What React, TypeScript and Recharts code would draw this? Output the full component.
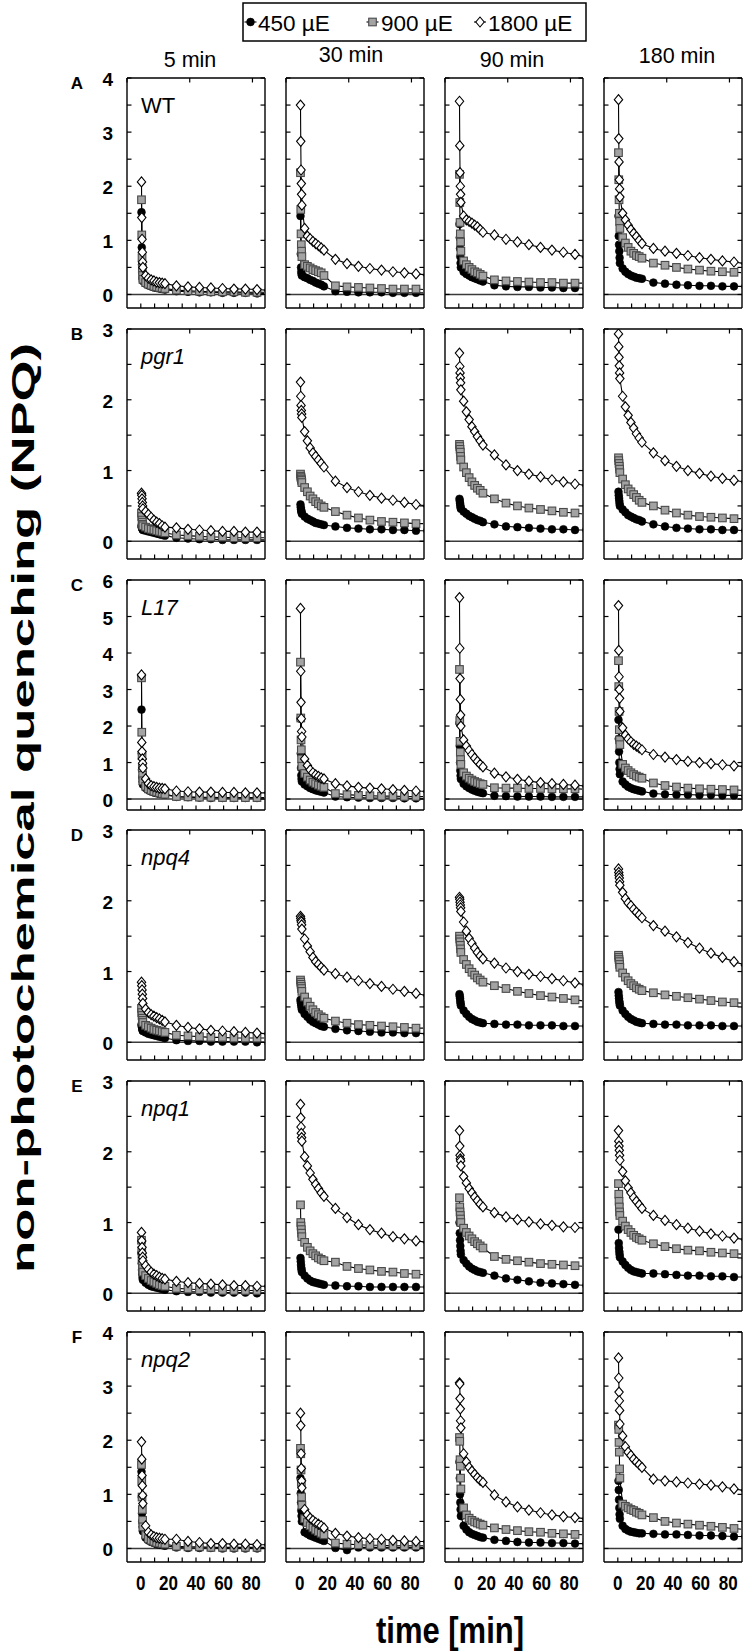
import React from 'react';
import { LineChart, Line, XAxis, YAxis, ReferenceLine } from 'recharts';

// time points (min) after the light period
const TIMES = [0.5, 0.7, 0.9, 1.1, 1.3, 1.5, 3.5, 5.5, 7.5, 9.5, 11.5, 13.5, 15.5, 17.5, 25.8, 34.2, 42.5, 50.8, 59.2, 67.5, 75.8, 84.2, 92.5];

// ---- WT ----
const WT_5_450 = [1.52, 0.87, 0.55, 0.4, 0.3, 0.25, 0.2, 0.17, 0.15, 0.13, 0.12, 0.11, 0.1, 0.09, 0.06, 0.05, 0.04, 0.04, 0.03, 0.03, 0.03, 0.02, 0.02];
const WT_5_900 = [1.75, 1.1, 0.68, 0.48, 0.35, 0.28, 0.22, 0.19, 0.17, 0.15, 0.14, 0.13, 0.12, 0.11, 0.08, 0.07, 0.06, 0.05, 0.05, 0.05, 0.04, 0.04, 0.04];
const WT_5_1800 = [2.08, 1.42, 1.02, 0.78, 0.6, 0.5, 0.35, 0.3, 0.27, 0.25, 0.23, 0.22, 0.21, 0.2, 0.16, 0.14, 0.13, 0.12, 0.11, 0.1, 0.1, 0.09, 0.08];
const WT_30_450 = [1.45, 0.75, 0.5, 0.42, 0.38, 0.35, 0.32, 0.3, 0.27, 0.25, 0.22, 0.2, 0.18, 0.15, 0.06, 0.05, 0.04, 0.04, 0.04, 0.03, 0.03, 0.03, 0.03];
const WT_30_900 = [2.25, 1.57, 1.12, 0.92, 0.8, 0.7, 0.55, 0.52, 0.49, 0.46, 0.44, 0.42, 0.4, 0.35, 0.16, 0.14, 0.13, 0.12, 0.11, 0.1, 0.1, 0.1, 0.09];
const WT_30_1800 = [3.5, 2.83, 2.3, 2.05, 1.85, 1.65, 1.22, 1.08, 1.03, 0.98, 0.94, 0.9, 0.86, 0.82, 0.65, 0.57, 0.52, 0.48, 0.45, 0.42, 0.4, 0.38, 0.36];
const WT_90_450 = [1.3, 1.05, 0.85, 0.7, 0.58, 0.5, 0.42, 0.38, 0.35, 0.32, 0.3, 0.28, 0.26, 0.24, 0.17, 0.15, 0.14, 0.14, 0.13, 0.13, 0.12, 0.12, 0.12];
const WT_90_900 = [2.22, 1.7, 1.33, 1.12, 0.97, 0.8, 0.62, 0.55, 0.5, 0.46, 0.42, 0.4, 0.37, 0.34, 0.27, 0.25, 0.24, 0.23, 0.22, 0.22, 0.21, 0.21, 0.21];
const WT_90_1800 = [3.57, 2.75, 2.25, 2.0, 1.85, 1.7, 1.45, 1.38, 1.35, 1.32, 1.28, 1.25, 1.2, 1.15, 1.1, 1.02, 0.97, 0.92, 0.87, 0.82, 0.78, 0.74, 0.69];
const WT_180_450 = [1.45, 1.08, 0.92, 0.8, 0.68, 0.58, 0.48, 0.42, 0.38, 0.35, 0.33, 0.31, 0.3, 0.29, 0.22, 0.2, 0.18, 0.17, 0.16, 0.16, 0.15, 0.15, 0.15];
const WT_180_900 = [2.62, 2.12, 1.75, 1.5, 1.35, 1.22, 1.05, 0.95, 0.87, 0.8, 0.76, 0.72, 0.7, 0.67, 0.58, 0.54, 0.5, 0.47, 0.45, 0.43, 0.42, 0.41, 0.4];
const WT_180_1800 = [3.6, 2.88, 2.45, 2.12, 1.95, 1.8, 1.5, 1.38, 1.28, 1.2, 1.13, 1.07, 1.0, 0.94, 0.85, 0.8, 0.76, 0.72, 0.68, 0.65, 0.62, 0.6, 0.57];

// ---- pgr1 ----
const PGR1_5_450 = [0.22, 0.2, 0.19, 0.18, 0.17, 0.16, 0.15, 0.14, 0.13, 0.12, 0.11, 0.1, 0.09, 0.08, 0.05, 0.04, 0.03, 0.03, 0.02, 0.02, 0.02, 0.02, 0.02];
const PGR1_5_900 = [0.4, 0.35, 0.3, 0.27, 0.24, 0.22, 0.2, 0.18, 0.17, 0.16, 0.15, 0.14, 0.13, 0.12, 0.09, 0.08, 0.07, 0.06, 0.06, 0.05, 0.05, 0.05, 0.05];
const PGR1_5_1800 = [0.68, 0.65, 0.6, 0.55, 0.5, 0.46, 0.42, 0.38, 0.34, 0.3, 0.27, 0.25, 0.22, 0.2, 0.19, 0.17, 0.16, 0.15, 0.14, 0.14, 0.13, 0.13, 0.13];
const PGR1_30_450 = [0.52, 0.48, 0.45, 0.43, 0.41, 0.39, 0.35, 0.32, 0.3, 0.28, 0.26, 0.25, 0.24, 0.23, 0.21, 0.19, 0.18, 0.17, 0.17, 0.16, 0.16, 0.15, 0.15];
const PGR1_30_900 = [0.95, 0.92, 0.9, 0.88, 0.86, 0.83, 0.76, 0.7, 0.64, 0.6, 0.56, 0.53, 0.5, 0.48, 0.42, 0.37, 0.33, 0.3, 0.28, 0.27, 0.26, 0.25, 0.25];
const PGR1_30_1800 = [2.25, 2.05, 1.92, 1.85, 1.8, 1.75, 1.55, 1.42, 1.32, 1.25, 1.2, 1.15, 1.1, 1.05, 0.85, 0.76, 0.7, 0.65, 0.61, 0.58, 0.55, 0.52, 0.5];
const PGR1_90_450 = [0.6, 0.57, 0.54, 0.51, 0.48, 0.46, 0.42, 0.39, 0.36, 0.34, 0.32, 0.3, 0.29, 0.27, 0.24, 0.21, 0.2, 0.19, 0.18, 0.17, 0.17, 0.16, 0.16];
const PGR1_90_900 = [1.37, 1.34, 1.3, 1.26, 1.2, 1.15, 1.05, 0.97, 0.9, 0.84, 0.79, 0.75, 0.72, 0.68, 0.6, 0.54, 0.5, 0.47, 0.45, 0.43, 0.41, 0.4, 0.38];
const PGR1_90_1800 = [2.66, 2.47, 2.38, 2.31, 2.24, 2.14, 1.98, 1.83, 1.72, 1.62, 1.55, 1.48, 1.42, 1.36, 1.22, 1.08, 1.0, 0.95, 0.91, 0.87, 0.84, 0.81, 0.79];
const PGR1_180_450 = [0.7, 0.65, 0.61, 0.57, 0.53, 0.5, 0.45, 0.41, 0.37, 0.35, 0.33, 0.31, 0.3, 0.28, 0.24, 0.21, 0.19, 0.18, 0.17, 0.17, 0.16, 0.16, 0.15];
const PGR1_180_900 = [1.18, 1.14, 1.1, 1.06, 1.02, 0.97, 0.88, 0.8, 0.74, 0.7, 0.66, 0.62, 0.58, 0.55, 0.5, 0.44, 0.4, 0.37, 0.35, 0.34, 0.33, 0.32, 0.32];
const PGR1_180_1800 = [2.93, 2.75, 2.6, 2.48, 2.38, 2.3, 2.05, 1.9, 1.78, 1.68, 1.6, 1.52, 1.46, 1.4, 1.25, 1.14, 1.06, 1.0, 0.96, 0.92, 0.89, 0.86, 0.84];

// ---- L17 ----
const L17_5_450 = [2.45, 1.25, 0.8, 0.6, 0.48, 0.4, 0.3, 0.25, 0.21, 0.18, 0.16, 0.14, 0.13, 0.12, 0.06, 0.05, 0.04, 0.03, 0.03, 0.03, 0.03, 0.03, 0.03];
const L17_5_900 = [3.32, 1.83, 1.2, 0.85, 0.65, 0.5, 0.35, 0.28, 0.24, 0.21, 0.19, 0.17, 0.15, 0.13, 0.07, 0.06, 0.05, 0.05, 0.04, 0.04, 0.04, 0.04, 0.04];
const L17_5_1800 = [3.4, 1.55, 1.3, 1.1, 0.98, 0.85, 0.55, 0.42, 0.37, 0.34, 0.32, 0.3, 0.29, 0.28, 0.22, 0.2, 0.19, 0.19, 0.18, 0.18, 0.17, 0.17, 0.17];
const L17_30_450 = [2.2, 1.25, 0.85, 0.65, 0.55, 0.48, 0.4, 0.35, 0.3, 0.27, 0.24, 0.22, 0.2, 0.18, 0.07, 0.05, 0.04, 0.03, 0.03, 0.03, 0.02, 0.02, 0.02];
const L17_30_900 = [3.75, 2.22, 1.62, 1.35, 1.1, 0.9, 0.7, 0.6, 0.52, 0.46, 0.42, 0.38, 0.35, 0.32, 0.15, 0.12, 0.1, 0.09, 0.08, 0.08, 0.07, 0.07, 0.07];
const L17_30_1800 = [5.22, 3.5, 2.65, 2.2, 1.85, 1.7, 1.1, 0.92, 0.8, 0.72, 0.66, 0.62, 0.58, 0.55, 0.42, 0.36, 0.32, 0.3, 0.28, 0.26, 0.24, 0.22, 0.21];
const L17_90_450 = [2.08, 1.45, 1.0, 0.78, 0.64, 0.55, 0.42, 0.35, 0.3, 0.26, 0.23, 0.2, 0.18, 0.16, 0.09, 0.08, 0.07, 0.07, 0.07, 0.06, 0.06, 0.06, 0.06];
const L17_90_900 = [3.55, 2.15, 1.58, 1.28, 1.08, 0.95, 0.72, 0.63, 0.57, 0.52, 0.48, 0.45, 0.42, 0.4, 0.31, 0.3, 0.3, 0.29, 0.29, 0.28, 0.28, 0.28, 0.27];
const L17_90_1800 = [5.52, 4.13, 3.3, 2.73, 2.3, 2.0, 1.62, 1.45, 1.33, 1.22, 1.12, 1.03, 0.95, 0.88, 0.71, 0.61, 0.54, 0.49, 0.45, 0.42, 0.4, 0.38, 0.36];
const L17_180_450 = [2.17, 1.65, 1.3, 1.0, 0.82, 0.68, 0.48, 0.4, 0.34, 0.3, 0.27, 0.25, 0.23, 0.21, 0.15, 0.13, 0.12, 0.12, 0.11, 0.11, 0.1, 0.1, 0.1];
const L17_180_900 = [3.79, 3.08, 2.4, 1.9, 1.62, 1.49, 0.95, 0.85, 0.78, 0.72, 0.67, 0.63, 0.6, 0.57, 0.44, 0.37, 0.33, 0.3, 0.28, 0.27, 0.26, 0.25, 0.24];
const L17_180_1800 = [5.3, 4.07, 3.35, 3.0, 2.76, 2.4, 1.95, 1.75, 1.65, 1.57, 1.5, 1.45, 1.4, 1.35, 1.22, 1.15, 1.08, 1.03, 1.0, 0.97, 0.94, 0.91, 0.89];

// ---- npq4 ----
const NPQ4_5_450 = [0.25, 0.23, 0.21, 0.19, 0.17, 0.16, 0.14, 0.12, 0.11, 0.1, 0.09, 0.08, 0.07, 0.06, 0.03, 0.02, 0.02, 0.01, 0.01, 0.01, 0.01, 0.0, 0.0];
const NPQ4_5_900 = [0.48, 0.42, 0.38, 0.34, 0.31, 0.28, 0.24, 0.22, 0.2, 0.18, 0.17, 0.16, 0.15, 0.14, 0.1, 0.09, 0.08, 0.07, 0.07, 0.06, 0.06, 0.06, 0.06];
const NPQ4_5_1800 = [0.85, 0.8, 0.74, 0.68, 0.62, 0.55, 0.47, 0.42, 0.39, 0.37, 0.35, 0.33, 0.31, 0.29, 0.24, 0.21, 0.19, 0.17, 0.16, 0.15, 0.14, 0.13, 0.12];
const NPQ4_30_450 = [0.6, 0.57, 0.55, 0.52, 0.49, 0.46, 0.4, 0.36, 0.32, 0.29, 0.27, 0.25, 0.23, 0.22, 0.19, 0.17, 0.16, 0.15, 0.14, 0.14, 0.13, 0.13, 0.12];
const NPQ4_30_900 = [0.88, 0.85, 0.82, 0.79, 0.76, 0.72, 0.64, 0.57, 0.51, 0.46, 0.42, 0.39, 0.36, 0.34, 0.3, 0.27, 0.25, 0.24, 0.23, 0.22, 0.21, 0.2, 0.2];
const NPQ4_30_1800 = [1.78, 1.75, 1.72, 1.7, 1.66, 1.6, 1.46, 1.36, 1.28, 1.2, 1.14, 1.1, 1.06, 1.02, 0.97, 0.92, 0.87, 0.83, 0.79, 0.75, 0.72, 0.69, 0.66];
const NPQ4_90_450 = [0.68, 0.65, 0.62, 0.58, 0.55, 0.52, 0.45, 0.4, 0.36, 0.33, 0.31, 0.29, 0.28, 0.27, 0.26, 0.25, 0.25, 0.24, 0.24, 0.24, 0.23, 0.23, 0.23];
const NPQ4_90_900 = [1.5, 1.46, 1.42, 1.37, 1.32, 1.27, 1.17, 1.1, 1.04, 0.99, 0.95, 0.91, 0.88, 0.85, 0.8, 0.76, 0.72, 0.69, 0.66, 0.64, 0.62, 0.6, 0.58];
const NPQ4_90_1800 = [2.05, 2.02, 1.98, 1.94, 1.9, 1.85, 1.7, 1.57, 1.47, 1.4, 1.33, 1.27, 1.22, 1.18, 1.12, 1.05, 1.0, 0.96, 0.93, 0.9, 0.87, 0.84, 0.81];
const NPQ4_180_450 = [0.71, 0.66, 0.62, 0.58, 0.55, 0.52, 0.45, 0.4, 0.36, 0.33, 0.31, 0.29, 0.28, 0.27, 0.26, 0.25, 0.25, 0.24, 0.24, 0.24, 0.23, 0.23, 0.23];
const NPQ4_180_900 = [1.23, 1.2, 1.17, 1.14, 1.1, 1.06, 0.98, 0.92, 0.87, 0.83, 0.8, 0.77, 0.75, 0.73, 0.7, 0.67, 0.65, 0.63, 0.61, 0.59, 0.57, 0.56, 0.55];
const NPQ4_180_1800 = [2.45, 2.4, 2.36, 2.32, 2.27, 2.22, 2.12, 2.03, 1.97, 1.93, 1.88, 1.84, 1.8, 1.76, 1.65, 1.57, 1.49, 1.41, 1.33, 1.26, 1.2, 1.14, 1.09];

// ---- npq1 ----
const NPQ1_5_450 = [0.57, 0.42, 0.33, 0.27, 0.22, 0.19, 0.15, 0.12, 0.1, 0.09, 0.08, 0.07, 0.06, 0.05, 0.03, 0.02, 0.02, 0.01, 0.01, 0.01, 0.01, 0.0, 0.01];
const NPQ1_5_900 = [0.75, 0.6, 0.48, 0.4, 0.35, 0.3, 0.25, 0.21, 0.18, 0.16, 0.14, 0.12, 0.11, 0.1, 0.07, 0.06, 0.05, 0.05, 0.04, 0.04, 0.04, 0.04, 0.04];
const NPQ1_5_1800 = [0.86, 0.74, 0.65, 0.57, 0.51, 0.46, 0.39, 0.34, 0.3, 0.27, 0.25, 0.23, 0.21, 0.2, 0.17, 0.15, 0.14, 0.13, 0.12, 0.11, 0.11, 0.1, 0.1];
const NPQ1_30_450 = [0.5, 0.45, 0.4, 0.36, 0.33, 0.3, 0.25, 0.21, 0.18, 0.16, 0.15, 0.14, 0.13, 0.12, 0.11, 0.1, 0.1, 0.09, 0.09, 0.09, 0.09, 0.09, 0.09];
const NPQ1_30_900 = [1.25, 1.0, 0.95, 0.9, 0.85, 0.8, 0.72, 0.65, 0.6, 0.56, 0.53, 0.5, 0.48, 0.46, 0.44, 0.38, 0.35, 0.33, 0.31, 0.3, 0.28, 0.27, 0.26];
const NPQ1_30_1800 = [2.67, 2.48, 2.35, 2.26, 2.2, 2.15, 1.93, 1.8, 1.7, 1.61, 1.54, 1.48, 1.42, 1.37, 1.2, 1.07, 0.97, 0.9, 0.85, 0.8, 0.77, 0.74, 0.72];
const NPQ1_90_450 = [1.0, 0.85, 0.75, 0.67, 0.6, 0.55, 0.47, 0.42, 0.38, 0.35, 0.33, 0.31, 0.3, 0.29, 0.25, 0.21, 0.19, 0.17, 0.15, 0.14, 0.13, 0.12, 0.11];
const NPQ1_90_900 = [1.35, 1.22, 1.15, 1.1, 1.05, 1.0, 0.92, 0.86, 0.81, 0.77, 0.73, 0.7, 0.67, 0.64, 0.52, 0.48, 0.46, 0.44, 0.42, 0.41, 0.4, 0.39, 0.38];
const NPQ1_90_1800 = [2.3, 2.08, 1.95, 1.9, 1.87, 1.8, 1.65, 1.56, 1.48, 1.42, 1.36, 1.31, 1.26, 1.22, 1.14, 1.08, 1.04, 1.01, 0.98, 0.96, 0.94, 0.93, 0.92];
const NPQ1_180_450 = [0.9, 0.71, 0.64, 0.59, 0.55, 0.51, 0.45, 0.4, 0.36, 0.33, 0.31, 0.3, 0.29, 0.28, 0.28, 0.27, 0.26, 0.25, 0.25, 0.24, 0.24, 0.23, 0.23];
const NPQ1_180_900 = [1.55, 1.4, 1.3, 1.22, 1.15, 1.1, 1.02, 0.95, 0.9, 0.86, 0.82, 0.79, 0.77, 0.75, 0.7, 0.66, 0.63, 0.61, 0.6, 0.58, 0.57, 0.56, 0.55];
const NPQ1_180_1800 = [2.3, 2.15, 2.08, 2.02, 1.95, 1.88, 1.72, 1.59, 1.49, 1.42, 1.35, 1.3, 1.25, 1.2, 1.1, 1.03, 0.97, 0.92, 0.88, 0.84, 0.81, 0.78, 0.76];

// ---- npq2 ----
const NPQ2_5_450 = [1.42, 0.95, 0.65, 0.5, 0.4, 0.32, 0.2, 0.15, 0.12, 0.1, 0.08, 0.07, 0.06, 0.05, 0.02, 0.01, 0.01, 0.01, 0.0, 0.0, 0.0, 0.0, 0.0];
const NPQ2_5_900 = [1.55, 1.25, 0.95, 0.72, 0.52, 0.4, 0.25, 0.18, 0.15, 0.13, 0.11, 0.1, 0.09, 0.08, 0.04, 0.03, 0.03, 0.02, 0.02, 0.02, 0.02, 0.02, 0.02];
const NPQ2_5_1800 = [1.97, 1.65, 1.35, 1.16, 0.98, 0.83, 0.42, 0.3, 0.25, 0.22, 0.2, 0.19, 0.18, 0.17, 0.17, 0.13, 0.11, 0.09, 0.09, 0.08, 0.08, 0.07, 0.07];
const NPQ2_30_450 = [1.3, 1.02, 0.85, 0.7, 0.6, 0.5, 0.3, 0.27, 0.24, 0.22, 0.2, 0.18, 0.16, 0.14, 0.01, -0.03, 0.02, 0.02, 0.02, 0.02, 0.02, 0.02, 0.02];
const NPQ2_30_900 = [1.85, 1.75, 1.45, 1.22, 0.95, 0.8, 0.55, 0.48, 0.42, 0.38, 0.34, 0.31, 0.28, 0.25, 0.1, 0.08, 0.07, 0.06, 0.06, 0.05, 0.05, 0.05, 0.05];
const NPQ2_30_1800 = [2.5, 2.27, 1.75, 1.48, 1.25, 1.12, 0.72, 0.62, 0.56, 0.52, 0.48, 0.45, 0.42, 0.38, 0.28, 0.23, 0.2, 0.18, 0.17, 0.15, 0.14, 0.13, 0.13];
const NPQ2_90_450 = [1.6, 1.3, 1.0, 0.85, 0.72, 0.6, 0.42, 0.35, 0.3, 0.27, 0.25, 0.23, 0.21, 0.2, 0.16, 0.14, 0.12, 0.11, 0.11, 0.1, 0.1, 0.09, 0.09];
const NPQ2_90_900 = [2.05, 1.98, 1.64, 1.52, 1.3, 1.1, 0.75, 0.62, 0.56, 0.52, 0.49, 0.47, 0.45, 0.43, 0.38, 0.35, 0.33, 0.31, 0.3, 0.28, 0.27, 0.26, 0.25];
const NPQ2_90_1800 = [3.06, 3.04, 2.77, 2.58, 2.36, 2.23, 1.75, 1.6, 1.5, 1.43, 1.37, 1.31, 1.26, 1.22, 0.99, 0.86, 0.77, 0.71, 0.66, 0.62, 0.59, 0.57, 0.55];
const NPQ2_180_450 = [1.25, 1.08, 0.9, 0.75, 0.63, 0.55, 0.42, 0.36, 0.33, 0.31, 0.3, 0.29, 0.28, 0.28, 0.27, 0.26, 0.26, 0.25, 0.24, 0.24, 0.23, 0.22, 0.22];
const NPQ2_180_900 = [2.28, 2.2, 1.96, 1.78, 1.47, 1.3, 0.82, 0.78, 0.75, 0.72, 0.7, 0.67, 0.65, 0.62, 0.57, 0.5, 0.47, 0.45, 0.43, 0.41, 0.39, 0.37, 0.35];
const NPQ2_180_1800 = [3.52, 3.15, 2.89, 2.73, 2.55, 2.3, 2.08, 1.88, 1.78, 1.72, 1.65, 1.6, 1.55, 1.5, 1.28, 1.25, 1.23, 1.21, 1.19, 1.17, 1.14, 1.1, 1.07];

// ---- labels / axes ----
const COL_TITLES = ['5 min', '30 min', '90 min', '180 min'];
const ROW_LETTERS = ['A', 'B', 'C', 'D', 'E', 'F'];
const GENOTYPES = ['WT', 'pgr1', 'L17', 'npq4', 'npq1', 'npq2'];
const GENO_ITALIC = [false, true, true, true, true, true];
const Y_MAX = [4, 3, 6, 3, 3, 4];
const Y_MIN = [-0.25, -0.25, -0.3, -0.25, -0.25, -0.25];
const Y_TICKS_4 = [0, 0.5, 1, 1.5, 2, 2.5, 3, 3.5, 4];
const Y_TICKS_3 = [0, 0.5, 1, 1.5, 2, 2.5, 3];
const Y_TICKS_6 = [0, 1, 2, 3, 4, 5, 6];
const Y_TICKS = [Y_TICKS_4, Y_TICKS_3, Y_TICKS_6, Y_TICKS_3, Y_TICKS_3, Y_TICKS_4];
const X_DOMAIN = [-10, 90];
const X_TICKS = [0, 10, 20, 30, 40, 50, 60, 70, 80];
const X_LABELS = [0, 20, 40, 60, 80];
const LEGEND_LABELS = ['450 µE', '900 µE', '1800 µE'];
const Y_TITLE = 'non-photochemical quenching (NPQ)';
const X_TITLE = 'time [min]';

const SERIES = [
  [[WT_5_450, WT_5_900, WT_5_1800], [WT_30_450, WT_30_900, WT_30_1800], [WT_90_450, WT_90_900, WT_90_1800], [WT_180_450, WT_180_900, WT_180_1800]],
  [[PGR1_5_450, PGR1_5_900, PGR1_5_1800], [PGR1_30_450, PGR1_30_900, PGR1_30_1800], [PGR1_90_450, PGR1_90_900, PGR1_90_1800], [PGR1_180_450, PGR1_180_900, PGR1_180_1800]],
  [[L17_5_450, L17_5_900, L17_5_1800], [L17_30_450, L17_30_900, L17_30_1800], [L17_90_450, L17_90_900, L17_90_1800], [L17_180_450, L17_180_900, L17_180_1800]],
  [[NPQ4_5_450, NPQ4_5_900, NPQ4_5_1800], [NPQ4_30_450, NPQ4_30_900, NPQ4_30_1800], [NPQ4_90_450, NPQ4_90_900, NPQ4_90_1800], [NPQ4_180_450, NPQ4_180_900, NPQ4_180_1800]],
  [[NPQ1_5_450, NPQ1_5_900, NPQ1_5_1800], [NPQ1_30_450, NPQ1_30_900, NPQ1_30_1800], [NPQ1_90_450, NPQ1_90_900, NPQ1_90_1800], [NPQ1_180_450, NPQ1_180_900, NPQ1_180_1800]],
  [[NPQ2_5_450, NPQ2_5_900, NPQ2_5_1800], [NPQ2_30_450, NPQ2_30_900, NPQ2_30_1800], [NPQ2_90_450, NPQ2_90_900, NPQ2_90_1800], [NPQ2_180_450, NPQ2_180_900, NPQ2_180_1800]],
];

// ---- layout ----
const FONT = '"Liberation Sans", Arial, Helvetica, sans-serif';
const COL_X = [127, 286, 445, 604];
const ROW_Y = [78, 329, 580, 830, 1081, 1332];
const PW = 138;
const PH = 230;
const AXL = 50;
const AXR = 2;
const PADT = 16;
const AXB = 42;
const TL = 4.5;
const FRAME = { stroke: '#000', strokeWidth: 1.4 };
const TITLE_X = [190, 351, 512, 677];
const TITLE_Y = [60, 55, 60, 56];

const SQ_FILL = '#a3a3a3';
const SQ_STROKE = '#4a4a4a';

const circleMark = (cx: number, cy: number, key?: any) => (
  <circle key={key} cx={cx} cy={cy} r={3.9} fill="#000" stroke="#000" strokeWidth={0.6} />
);
const squareMark = (cx: number, cy: number, key?: any) => (
  <rect key={key} x={cx - 3.8} y={cy - 3.8} width={7.6} height={7.6} fill={SQ_FILL} stroke={SQ_STROKE} strokeWidth={1.1} />
);
const diamondMark = (cx: number, cy: number, key?: any) => (
  <path key={key} d={`M${cx},${cy - 5}L${cx + 4.2},${cy}L${cx},${cy + 5}L${cx - 4.2},${cy}Z`} fill="#fff" stroke="#000" strokeWidth={1.1} />
);
const MARKS = [circleMark, squareMark, diamondMark];

const makeDot = (mark: (cx: number, cy: number, key?: any) => any) => (p: any) => {
  if (p == null || p.cx == null || p.cy == null) return <g key={p && p.index} />;
  return mark(p.cx, p.cy, p.index);
};

function Panel({ r, c }: { r: number; c: number }) {
  const ser = SERIES[r][c];
  const data = TIMES.map((t, i) => ({ t, s450: ser[0][i], s900: ser[1][i], s1800: ser[2][i] }));
  const showY = c === 0;
  const showX = r === 5;

  const leftTick = (p: any) => {
    const { x, y, payload } = p;
    const v = payload.value;
    return (
      <g>
        <line x1={x} y1={y} x2={x + TL} y2={y} stroke="#000" strokeWidth={1.2} />
        {showY && Number.isInteger(v) ? (
          <text x={x - 14} y={y + 1.5} textAnchor="end" dominantBaseline="central" fontFamily={FONT} fontWeight="bold" fontSize={19} fill="#000">
            {v}
          </text>
        ) : null}
      </g>
    );
  };
  const rightTick = (p: any) => {
    const { x, y } = p;
    return <line x1={x} y1={y} x2={x - TL} y2={y} stroke="#000" strokeWidth={1.2} />;
  };
  const bottomTick = (p: any) => {
    const { x, y, payload } = p;
    const v = payload.value;
    return (
      <g>
        <line x1={x} y1={y} x2={x} y2={y - TL} stroke="#000" strokeWidth={1.2} />
        {showX && X_LABELS.includes(v) ? (
          <text transform={`translate(${x} ${y + 21}) scale(0.85 1)`} textAnchor="middle" dominantBaseline="central" fontFamily={FONT} fontWeight="bold" fontSize={20} fill="#000">
            {v}
          </text>
        ) : null}
      </g>
    );
  };
  const topTick = (p: any) => {
    const { x, y } = p;
    return <line x1={x} y1={y} x2={x} y2={y + TL} stroke="#000" strokeWidth={1.2} />;
  };

  const keys = ['s450', 's900', 's1800'];
  return (
    <div style={{ position: 'absolute', left: COL_X[c] - AXL, top: ROW_Y[r] - PADT }}>
      <LineChart width={PW + AXL + AXR} height={PH + PADT + AXB} data={data} margin={{ top: 0, right: 0, bottom: 0, left: 0 }}>
        <XAxis xAxisId="b" dataKey="t" type="number" domain={X_DOMAIN} allowDataOverflow ticks={X_TICKS} interval={0}
          tickSize={0} tickMargin={0} tickLine={false} axisLine={FRAME} height={AXB} tick={bottomTick} />
        <XAxis xAxisId="t" orientation="top" type="number" domain={X_DOMAIN} allowDataOverflow ticks={X_TICKS} interval={0}
          tickSize={0} tickMargin={0} tickLine={false} axisLine={FRAME} height={PADT} tick={topTick} />
        <YAxis yAxisId="l" type="number" domain={[Y_MIN[r], Y_MAX[r]]} allowDataOverflow ticks={Y_TICKS[r]} interval={0}
          tickSize={0} tickMargin={0} tickLine={false} axisLine={FRAME} width={AXL} tick={leftTick} />
        <YAxis yAxisId="r" orientation="right" type="number" domain={[Y_MIN[r], Y_MAX[r]]} allowDataOverflow ticks={Y_TICKS[r]} interval={0}
          tickSize={0} tickMargin={0} tickLine={false} axisLine={FRAME} width={AXR} tick={rightTick} />
        <ReferenceLine xAxisId="b" yAxisId="l" y={0} stroke="#3a3a3a" strokeWidth={1.6} />
        {keys.map((k, i) => (
          <Line key={k} xAxisId="b" yAxisId="l" type="linear" dataKey={k} stroke="#000" strokeWidth={1.1}
            dot={makeDot(MARKS[i])} activeDot={false} isAnimationActive={false} />
        ))}
      </LineChart>
    </div>
  );
}

function Overlay() {
  const legendItems = [
    { mx: 250.5, tx: 258 },
    { mx: 372.5, tx: 381 },
    { mx: 480, tx: 488 },
  ];
  return (
    <svg width={744} height={1652} style={{ position: 'absolute', left: 0, top: 0, pointerEvents: 'none' }}>
      {/* legend */}
      <rect x={243} y={3} width={343} height={38} fill="#fff" stroke="#000" strokeWidth={1.5} />
      {legendItems.map((it, i) => (
        <g key={i}>
          <line x1={it.mx - 6} y1={22} x2={it.mx + 6} y2={22} stroke="#000" strokeWidth={1.1} />
          {MARKS[i](it.mx, 22)}
          <text x={it.tx} y={23} dominantBaseline="central" fontFamily={FONT} fontSize={22.5} fill="#000">
            {LEGEND_LABELS[i]}
          </text>
        </g>
      ))}
      {/* column titles */}
      {COL_TITLES.map((t, c) => (
        <text key={t} x={TITLE_X[c]} y={TITLE_Y[c]} textAnchor="middle" dominantBaseline="central" fontFamily={FONT} fontSize={21.5} fill="#000">
          {t}
        </text>
      ))}
      {/* row letters and genotype names */}
      {ROW_LETTERS.map((l, r) => (
        <g key={l}>
          <text x={77} y={ROW_Y[r] + 5} textAnchor="middle" dominantBaseline="central" fontFamily={FONT} fontWeight="bold" fontSize={17} fill="#000">
            {l}
          </text>
          <text x={COL_X[0] + 14} y={ROW_Y[r] + 35} fontFamily={FONT} fontStyle={GENO_ITALIC[r] ? 'italic' : 'normal'} fontSize={22} fill="#000">
            {GENOTYPES[r]}
          </text>
        </g>
      ))}
      {/* axis titles */}
      <text transform="translate(23 808) rotate(-90)" textAnchor="middle" dominantBaseline="central" fontFamily={FONT} fontWeight="bold" fontSize={31}
        textLength={930} lengthAdjust="spacingAndGlyphs" fill="#000">
        {Y_TITLE}
      </text>
      <text transform="translate(450 1630) scale(1 1.22)" textAnchor="middle" dominantBaseline="central" fontFamily={FONT} fontWeight="bold" fontSize={31} fill="#000">
        {X_TITLE}
      </text>
    </svg>
  );
}

export default function App() {
  const panels: any[] = [];
  for (let r = 0; r < 6; r++) {
    for (let c = 0; c < 4; c++) {
      panels.push(<Panel key={`${r}-${c}`} r={r} c={c} />);
    }
  }
  return (
    <div style={{ position: 'absolute', left: 0, top: 0, width: 744, height: 1652, overflow: 'hidden', background: '#fff', fontFamily: FONT }}>
      {panels}
      <Overlay />
    </div>
  );
}
